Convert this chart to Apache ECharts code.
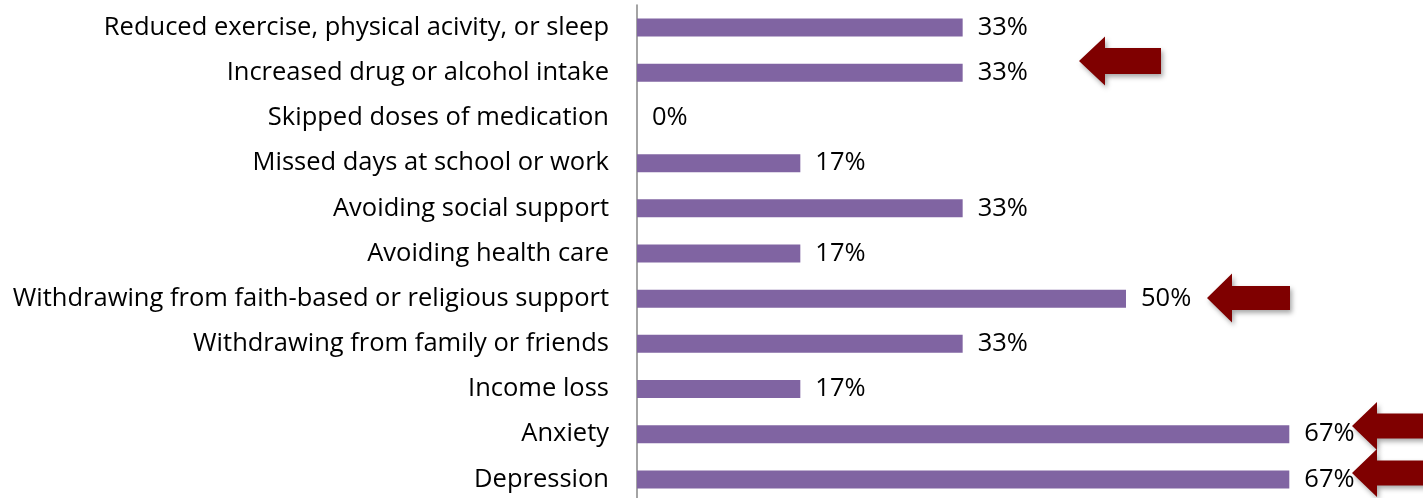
<!DOCTYPE html>
<html><head><meta charset="utf-8">
<script src="https://cdn.jsdelivr.net/npm/echarts@6/dist/echarts.min.js"></script>
<style>html,body{margin:0;padding:0;background:#fff;overflow:hidden}#c{width:1423px;height:512px}</style>
</head><body><div id="c"></div>
<script>
const categories = [
  "Reduced exercise, physical acivity, or sleep",
  "Increased drug or alcohol intake",
  "Skipped doses of medication",
  "Missed days at school or work",
  "Avoiding social support",
  "Avoiding health care",
  "Withdrawing from faith-based or religious support",
  "Withdrawing from family or friends",
  "Income loss",
  "Anxiety",
  "Depression"
];
const values = [33.3, 33.3, 0, 16.7, 33.3, 16.7, 50, 33.3, 16.7, 66.7, 66.7];

function arrow(tipX, tipY, headLen, headH, shaftH, len) {
  const hh = headH / 2, sh = shaftH / 2;
  return {
    type: 'polygon',
    shape: { points: [
      [tipX, tipY], [tipX + headLen, tipY - hh], [tipX + headLen, tipY - sh],
      [tipX + len, tipY - sh], [tipX + len, tipY + sh], [tipX + headLen, tipY + sh],
      [tipX + headLen, tipY + hh]
    ]},
    style: { fill: '#7f0000', shadowBlur: 5, shadowOffsetX: 2, shadowOffsetY: 3, shadowColor: 'rgba(0,0,0,0.35)' },
    z: 100
  };
}

const chart = echarts.init(document.getElementById('c'), null, { renderer: 'canvas' });
const FONT = 'Open Sans';
chart.setOption({
  animation: false,
  grid: { left: 637, top: 5, right: 0, height: 497, containLabel: false },
  xAxis: { type: 'value', min: 0, max: 80.37, show: false },
  yAxis: {
    type: 'category', data: categories, inverse: true,
    axisLine: { show: true, lineStyle: { color: '#868686', width: 1.5 } },
    axisTick: { show: false },
    axisLabel: { color: '#000', fontFamily: FONT, fontSize: 25.5, margin: 28, padding: [3, 0, 0, 0] }
  },
  series: [{
    type: 'bar', data: values, barWidth: 18,
    itemStyle: { color: '#8064a2' },
    label: { show: true, position: 'right', distance: 15, color: '#000', fontFamily: FONT, fontSize: 25.5,
      padding: [3, 0, 0, 0], formatter: p => Math.round(p.value) + '%' }
  }],
  graphic: [
    arrow(1079, 61, 26, 49, 26, 82),
    arrow(1207, 298, 25, 49, 24, 83),
    arrow(1352, 426, 25, 48, 25, 90),
    arrow(1352, 473, 25, 48, 25, 90)
  ]
});
</script></body></html>
